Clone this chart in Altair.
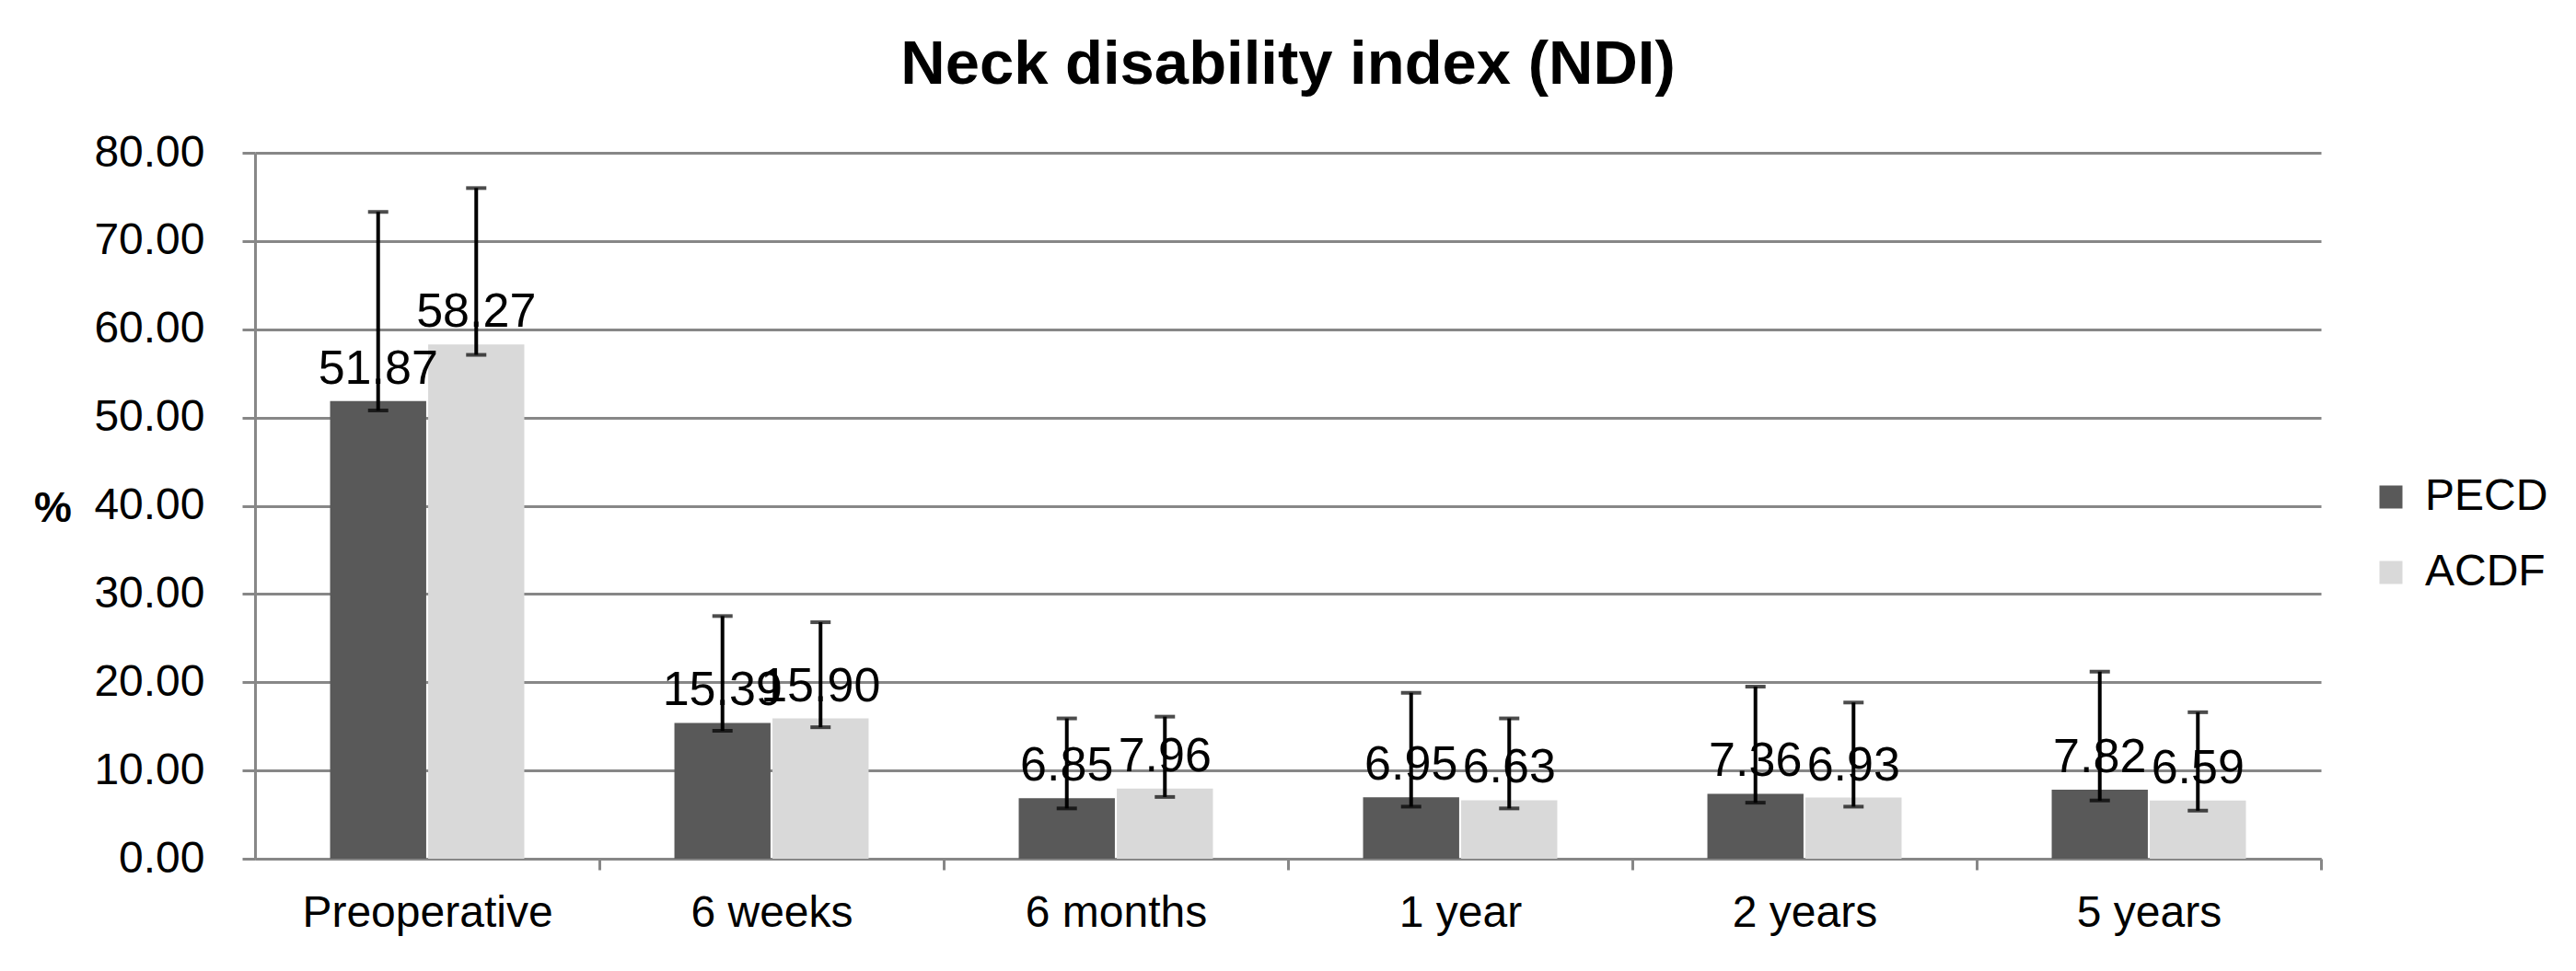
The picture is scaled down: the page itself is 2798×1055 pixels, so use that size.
import altair as alt
import pandas as pd

categories = ["Preoperative", "6 weeks", "6 months", "1 year", "2 years", "5 years"]
series_names = ["PECD", "ACDF"]
pecd = [51.87, 15.39, 6.85, 6.95, 7.36, 7.82]
acdf = [58.27, 15.90, 7.96, 6.63, 6.93, 6.59]
pecd_hi = [73.3, 27.5, 15.9, 18.8, 19.5, 21.2]
pecd_lo = [50.8, 14.5, 5.7, 5.9, 6.35, 6.6]
acdf_hi = [76.0, 26.8, 16.1, 15.9, 17.7, 16.6]
acdf_lo = [57.1, 14.9, 7.0, 5.7, 5.9, 5.45]
y_ticks = [0, 10, 20, 30, 40, 50, 60, 70, 80]

rows = []
for i, c in enumerate(categories):
    rows.append(dict(cat=c, series="PECD", value=pecd[i], lo=pecd_lo[i], hi=pecd_hi[i]))
    rows.append(dict(cat=c, series="ACDF", value=acdf[i], lo=acdf_lo[i], hi=acdf_hi[i]))
df = pd.DataFrame(rows)

FONT = "Liberation Sans"
GRID = "#878787"

x_axis = alt.Axis(
    title=None, labelAngle=0, ticks=True, tickSize=12, tickOffset=187, labelOffset=-187,
    tickColor=GRID, tickWidth=3, domainColor=GRID, domainWidth=3,
    labelFontSize=48, labelFont=FONT, labelColor="black", labelPadding=23,
    labelLimit=0, grid=False,
)
x_enc = alt.X(
    "cat:N",
    sort=categories,
    scale=alt.Scale(paddingInner=0.436, paddingOuter=0.218),
    axis=x_axis,
)
xo_enc = alt.XOffset("series:N", sort=series_names, scale=alt.Scale(paddingInner=0.02))
y_scale = alt.Scale(domain=[0, 80], nice=False)
y_axis = alt.Axis(
    values=y_ticks, format=".2f", grid=True, gridColor=GRID, gridWidth=3,
    tickSize=14, tickColor=GRID, tickWidth=3, domainColor=GRID, domainWidth=3,
    labelFontSize=48, labelFont=FONT, labelColor="black", labelPadding=41,
    title="%", titleAngle=0, titleX=-220, titleY=386, titleAlign="center",
    titleBaseline="middle", titleFontSize=46, titleFontWeight="bold",
    titleFont=FONT, titleColor="black",
)

bars = alt.Chart(df).mark_bar().encode(
    x=x_enc,
    xOffset=xo_enc,
    y=alt.Y("value:Q", scale=y_scale, axis=y_axis),
    color=alt.Color(
        "series:N",
        sort=series_names,
        scale=alt.Scale(domain=series_names, range=["#595959", "#d9d9d9"]),
        legend=alt.Legend(
            title=None, orient="none", legendX=2296, legendY=350,
            symbolType="square", symbolSize=625, symbolStrokeWidth=0,
            labelFontSize=48, labelFont=FONT, labelColor="black",
            labelOffset=13, rowPadding=34, labelLimit=0,
        ),
    ),
)

rules = alt.Chart(df).mark_rule(color="black", strokeWidth=4).encode(
    x=x_enc,
    xOffset=xo_enc,
    y=alt.Y("lo:Q", scale=y_scale, axis=y_axis),
    y2="hi:Q",
)

caps_hi = alt.Chart(df).mark_tick(color="black", size=22, thickness=4, orient="horizontal").encode(
    x=x_enc,
    xOffset=xo_enc,
    y=alt.Y("hi:Q", scale=y_scale, axis=y_axis),
)
caps_lo = alt.Chart(df).mark_tick(color="black", size=22, thickness=4, orient="horizontal").encode(
    x=x_enc,
    xOffset=xo_enc,
    y=alt.Y("lo:Q", scale=y_scale, axis=y_axis),
)

labels = alt.Chart(df).mark_text(
    font=FONT, fontSize=52, color="black", baseline="alphabetic", dy=-19
).encode(
    x=x_enc,
    xOffset=xo_enc,
    y=alt.Y("value:Q", scale=y_scale, axis=y_axis),
    text=alt.Text("value:Q", format=".2f"),
)

chart = (
    alt.layer(bars, labels, rules, caps_hi, caps_lo)
    .properties(
        width=2244,
        height=767,
        title=alt.TitleParams(
            "Neck disability index (NDI)", fontSize=67, fontWeight="bold", font=FONT,
            color="black", anchor="middle", frame="group", baseline="alphabetic",
            offset=11, dy=27,
        ),
        autosize=alt.AutoSizeParams(type="none"),
        padding={"left": 269, "top": 158, "right": 269, "bottom": 100},
        background="white",
    )
    .configure_view(stroke=None)
)

chart.save("out.html", embed_options={"renderer": "svg", "actions": False})
